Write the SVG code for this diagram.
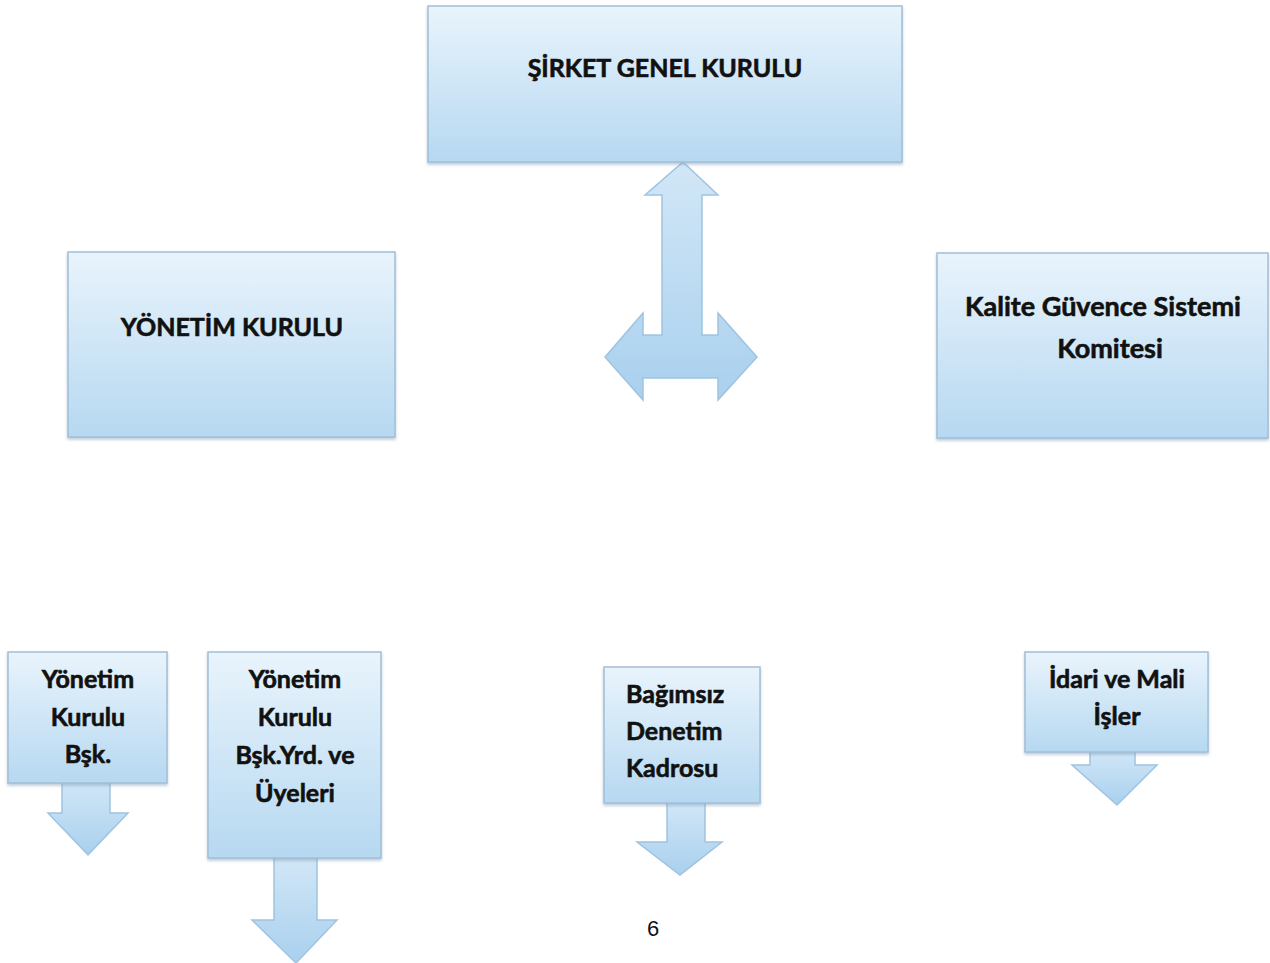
<svg xmlns="http://www.w3.org/2000/svg" width="1270" height="963" viewBox="0 0 1270 963">
<defs>
<linearGradient id="gb" x1="0" y1="0" x2="0" y2="1">
<stop offset="0" stop-color="#e9f4fc"/>
<stop offset="1" stop-color="#b6d8f1"/>
</linearGradient>
<linearGradient id="ga" x1="0" y1="0" x2="0" y2="1">
<stop offset="0" stop-color="#d2e7f7"/>
<stop offset="1" stop-color="#a9d0ee"/>
</linearGradient>
<filter id="sh" x="-5%" y="-5%" width="110%" height="115%">
<feDropShadow dx="0" dy="2" stdDeviation="1.5" flood-color="#7a9ab5" flood-opacity="0.5"/>
</filter>
</defs>
<style>
.box{fill:url(#gb);stroke:#a3bfd6;stroke-width:1.5;filter:url(#sh)}
.arr{fill:url(#ga);stroke:#9fc3e0;stroke-width:1.5;stroke-linejoin:miter}
.t{font-family:Lato,"Open Sans",sans-serif;font-weight:bold;fill:#111;stroke:#111;stroke-width:0.6;text-anchor:middle}
.big{font-size:25px}
.kal{font-size:27px}
.sm{font-size:25px}
</style>
<rect width="1270" height="963" fill="#fff"/>
<g id="connectors">
<path class="arr" d="M683,162 L718,195 L702,195 L702,335 L718,335 L718,313 L757,357 L718,400 L718,378 L643,378 L643,400 L605,357 L643,313 L643,335 L662,335 L662,195 L645,195 Z"/>
<path class="arr" d="M62,780 L110,780 L110,813 L128,813 L88,855 L48,813 L62,813 Z"/>
<path class="arr" d="M274,855 L317,855 L317,920 L337,920 L296,963 L252,920 L274,920 Z"/>
<path class="arr" d="M667,800 L705,800 L705,842 L722,842 L680,875 L637,842 L667,842 Z"/>
<path class="arr" d="M1090,750 L1135,750 L1135,765 L1157,765 L1117,805 L1072,765 L1090,765 Z"/>
</g>
<g id="sirket-genel-kurulu">
<rect class="box" x="428" y="6" width="474" height="156"/>
<text class="t big" x="665" y="77">ŞİRKET GENEL KURULU</text>
</g>
<g id="yonetim-kurulu">
<rect class="box" x="68" y="252" width="327" height="185"/>
<text class="t big" x="232" y="336">YÖNETİM KURULU</text>
</g>
<g id="kalite-guvence">
<rect class="box" x="937" y="253" width="331" height="185"/>
<text class="t kal" x="1103" y="316">Kalite Güvence Sistemi</text>
<text class="t kal" x="1110" y="358">Komitesi</text>
</g>
<g id="yk-bsk">
<rect class="box" x="8" y="652" width="159" height="131"/>
<text class="t sm" x="88" y="688">Yönetim</text>
<text class="t sm" x="88" y="726">Kurulu</text>
<text class="t sm" x="88" y="763">Bşk.</text>
</g>
<g id="yk-bsk-yrd">
<rect class="box" x="208" y="652" width="173" height="206"/>
<text class="t sm" x="295" y="688">Yönetim</text>
<text class="t sm" x="295" y="726">Kurulu</text>
<text class="t sm" x="295" y="764">Bşk.Yrd. ve</text>
<text class="t sm" x="295" y="802">Üyeleri</text>
</g>
<g id="bagimsiz-denetim">
<rect class="box" x="604" y="667" width="156" height="136"/>
<text class="t sm" x="626" y="703" style="text-anchor:start">Bağımsız</text>
<text class="t sm" x="626" y="740" style="text-anchor:start">Denetim</text>
<text class="t sm" x="626" y="777" style="text-anchor:start">Kadrosu</text>
</g>
<g id="idari-mali">
<rect class="box" x="1025" y="652" width="183" height="100"/>
<text class="t sm" x="1117" y="688">İdari ve Mali</text>
<text class="t sm" x="1117" y="725">İşler</text>
</g>
<text x="653" y="936" style="font-family:'Liberation Sans',sans-serif;font-size:22px;fill:#111;text-anchor:middle">6</text>
</svg>
